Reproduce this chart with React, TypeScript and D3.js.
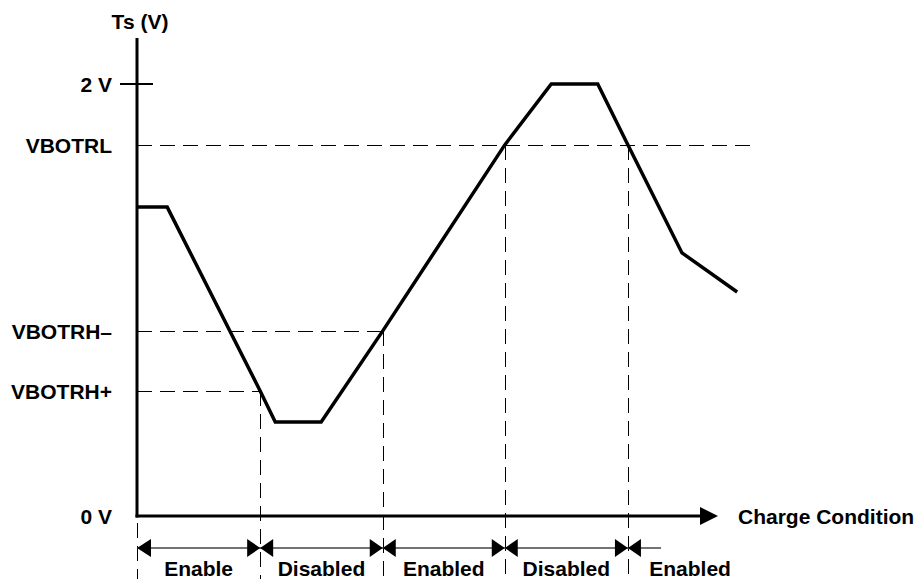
import * as d3 from "d3";

// waveform of Ts against charge condition (time units are arbitrary)
const curveT = [0, 5.2, 21.2, 23.8, 31.7, 42.3, 63.3, 71.3, 79.3, 84.5, 93.8, 103.3];
const curveV = [1.43, 1.43, 0.579, 0.435, 0.435, 0.857, 1.718, 2.0, 2.0, 1.718, 1.218, 1.037];

const yTickLabels = ["2 V", "VBOTRL", "VBOTRH\u2013", "VBOTRH+", "0 V"];
const yTickValues = [2, 1.718, 0.857, 0.579, 0];

// where the waveform crosses thresholds (region borders)
const crossT = [21.2, 42.3, 63.3, 84.5];
const crossV = [0.579, 0.857, 1.718, 1.718];
const regionBounds = [0, 21.2, 42.3, 63.3, 84.5, 105.9];
const regionLabels = ["Enable", "Disabled", "Enabled", "Disabled", "Enabled"];
const arrowRowEnd = 90.2;
const vbotrlEnd = 106;

const W = 915;
const H = 579;
const font = "'Liberation Sans', Arial, sans-serif";

export default function App() {
  const x = d3.scaleLinear().domain([0, 100]).range([137, 718]);
  const y = d3.scaleLinear().domain([0, 2]).range([516, 84]);

  const pts: [number, number][] = curveT.map((t, i) => [t, curveV[i]]);
  const line = d3
    .line<[number, number]>()
    .x((d) => x(d[0]))
    .y((d) => y(d[1]));

  const x0 = x(0);
  const y0 = y(0);
  const rowY = 548;
  const dash = "15,8";
  const px = (v: number) => Math.round(v) + 0.5;

  // horizontal dashed guides end at the crossing of each threshold
  const hGuides = [
    { v: yTickValues[1], end: vbotrlEnd },
    { v: yTickValues[2], end: crossT[1] },
    { v: yTickValues[3], end: crossT[0] },
  ];

  return (
    <svg
      width={W}
      height={H}
      style={{ position: "absolute", left: 0, top: 0, background: "#fff" }}
      fontFamily={font}
      fontWeight="bold"
      fontSize={21}
    >
      {/* guides */}
      <g stroke="#000" strokeWidth={1} strokeDasharray={dash} shapeRendering="crispEdges">
        {hGuides.map((g, i) => (
          <line key={"h" + i} x1={x0} x2={x(g.end)} y1={px(y(g.v))} y2={px(y(g.v))} />
        ))}
        {crossT.map((t, i) => (
          <line key={"v" + i} x1={px(x(t))} x2={px(x(t))} y1={y(crossV[i])} y2={H} />
        ))}
        <line x1={px(x0)} x2={px(x0)} y1={y0 + 7} y2={H} />
      </g>

      {/* axes */}
      <line x1={x0} x2={x0} y1={38} y2={y0 + 1.5} stroke="#000" strokeWidth={3} />
      <line x1={x0 - 1.5} x2={x(100) - 16} y1={y0} y2={y0} stroke="#000" strokeWidth={3} />
      <path
        d={`M${x(100)},${y0} L${x(100) - 18},${y0 - 9} L${x(100) - 18},${y0 + 9} Z`}
        fill="#000"
      />
      <line x1={x0 - 17} x2={x0 + 16} y1={y(2)} y2={y(2)} stroke="#000" strokeWidth={2} />

      {/* waveform */}
      <path d={line(pts) ?? ""} fill="none" stroke="#000" strokeWidth={3.5} strokeLinejoin="miter" />

      {/* y labels */}
      {yTickLabels.map((l, i) => (
        <text key={l} x={112} y={y(yTickValues[i]) + 8} textAnchor="end">
          {l}
        </text>
      ))}
      <text x={140} y={29} textAnchor="middle">
        Ts (V)
      </text>
      <text x={738} y={524}>
        Charge Condition
      </text>

      {/* region arrows */}
      <line x1={x0} x2={x(arrowRowEnd)} y1={rowY} y2={rowY} stroke="#444" strokeWidth={1.5} />
      <path d={`M${x0},${rowY} L${x0 + 14},${rowY - 9} L${x0 + 14},${rowY + 9} Z`} fill="#000" />
      {crossT.map((t, i) => {
        const cx = x(t);
        return (
          <path
            key={"b" + i}
            d={`M${cx},${rowY} L${cx - 13},${rowY - 9} L${cx - 13},${rowY + 9} Z M${cx},${rowY} L${cx + 13},${rowY - 9} L${cx + 13},${rowY + 9} Z`}
            fill="#000"
          />
        );
      })}
      {regionLabels.map((l, i) => (
        <text
          key={"r" + i}
          x={x((regionBounds[i] + regionBounds[i + 1]) / 2)}
          y={576}
          textAnchor="middle"
        >
          {l}
        </text>
      ))}
    </svg>
  );
}
